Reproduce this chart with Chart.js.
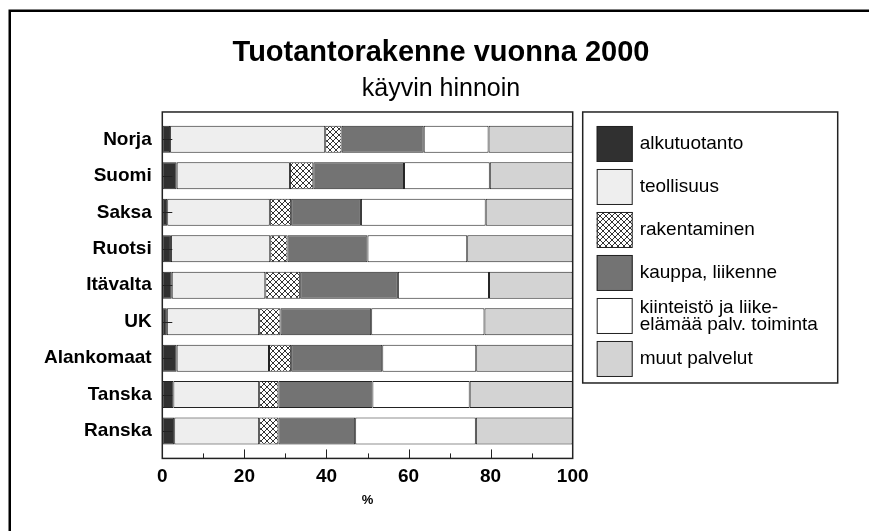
<!DOCTYPE html>
<html>
<head>
<meta charset="utf-8">
<script src="https://cdn.jsdelivr.net/npm/chart.js@4"></script>
<style>
  body { margin: 0; background: #fff; }
  #wrap { width: 869px; height: 531px; }
</style>
</head>
<body>
<div id="wrap"><canvas id="myChart" width="869" height="531"></canvas></div>
<script>
// data (%, each country sums to 100)
const countries = ['Norja', 'Suomi', 'Saksa', 'Ruotsi', 'Itävalta', 'UK', 'Alankomaat', 'Tanska', 'Ranska'];
const seriesNames = ['alkutuotanto', 'teollisuus', 'rakentaminen', 'kauppa, liikenne', 'kiinteistö ja liike-\nelämää palv. toiminta', 'muut palvelut'];
const alkutuotanto = [1.9, 3.5, 1.2, 2.1, 2.3, 1.1, 3.5, 2.7, 2.9];
const teollisuus = [37.8, 27.6, 25.0, 24.2, 22.8, 22.5, 22.5, 20.9, 20.7];
const rakentaminen = [4.0, 5.7, 5.2, 4.2, 8.5, 5.2, 5.4, 4.7, 4.7];
const kauppa = [20.0, 22.1, 17.0, 19.5, 23.8, 22.1, 22.2, 22.9, 18.7];
const kiinteisto = [15.8, 20.9, 30.4, 24.3, 22.2, 27.6, 22.9, 23.7, 29.4];
const muut = [20.5, 20.2, 21.2, 25.7, 20.4, 21.5, 23.5, 25.1, 23.6];
const xTicks = [0, 20, 40, 60, 80, 100];

Chart.defaults.font.family = '"Liberation Sans", Arial, sans-serif';
Chart.defaults.color = '#000';

// cross hatch for rakentaminen
function hatch() {
    const c = document.createElement('canvas');
    c.width = 6;
    c.height = 6;
    const g = c.getContext('2d');
    g.fillStyle = '#fff';
    g.fillRect(0, 0, 6, 6);
    g.strokeStyle = '#333';
    g.lineWidth = 1;
    g.beginPath();
    g.moveTo(0, 0); g.lineTo(6, 6);
    g.moveTo(6, 0); g.lineTo(0, 6);
    g.stroke();
    return g.createPattern(c, 'repeat');
}

const fills = ['#303030', '#eeeeee', hatch(), '#737373', '#ffffff', '#d3d3d3'];
const values = [alkutuotanto, teollisuus, rakentaminen, kauppa, kiinteisto, muut];

const datasets = values.map((v, i) => ({
    label: seriesNames[i],
    data: v,
    backgroundColor: fills[i],
    borderColor: '#222',
    borderWidth: 1,
    borderSkipped: false,
    barPercentage: 0.74,
    categoryPercentage: 1
}));

// plot frame, inner ticks, outer frame and the boxed legend
const decor = {
    id: 'decor',
    afterDraw(chart) {
        const ctx = chart.ctx;
        const x = chart.scales.x, y = chart.scales.y;
        const left = x.getPixelForValue(0), right = x.getPixelForValue(100);
        const step = y.getPixelForValue(1) - y.getPixelForValue(0);
        const top = chart.chartArea.top - step / 4;
        const bottom = chart.chartArea.bottom + step / 4;
        ctx.save();
        ctx.strokeStyle = '#222';
        ctx.lineWidth = 1.5;
        ctx.strokeRect(left, top, right - left, bottom - top);

        ctx.lineWidth = 1;
        ctx.beginPath();
        countries.forEach((c, i) => {
            const yy = Math.round(y.getPixelForValue(i)) + 0.5;
            ctx.moveTo(left, yy);
            ctx.lineTo(left + 10, yy);
        });
        for (let v = 10; v < 100; v += 10) {
            const xx = Math.round(x.getPixelForValue(v)) + 0.5;
            ctx.moveTo(xx, bottom);
            ctx.lineTo(xx, bottom - (v % 20 === 0 ? 9 : 5));
        }
        ctx.stroke();

        // outer frame (only left and top edges show)
        ctx.strokeStyle = '#000';
        ctx.lineWidth = 2.5;
        ctx.beginPath();
        ctx.moveTo(9.75, 531);
        ctx.lineTo(9.75, 10.75);
        ctx.lineTo(869, 10.75);
        ctx.stroke();

        // legend
        const lx = right + 10, ly = top;
        ctx.strokeStyle = '#222';
        ctx.lineWidth = 1.5;
        ctx.strokeRect(lx, ly, 255, 271);
        ctx.font = '19px "Liberation Sans", Arial, sans-serif';
        ctx.fillStyle = '#000';
        ctx.textBaseline = 'middle';
        chart.data.datasets.forEach((ds, i) => {
            const sy = ly + 14 + i * 43;
            ctx.fillStyle = ds.backgroundColor;
            ctx.fillRect(lx + 14, sy, 36, 36);
            ctx.lineWidth = 1;
            ctx.strokeRect(lx + 14.5, sy + 0.5, 35, 35);
            ctx.fillStyle = '#000';
            const lines = ds.label.split('\n');
            lines.forEach((t, j) => {
                ctx.fillText(t, lx + 57, sy + 18 + (j - (lines.length - 1) / 2) * 17);
            });
        });
        ctx.restore();
    }
};

new Chart(document.getElementById('myChart'), {
    type: 'bar',
    data: { labels: countries, datasets: datasets },
    options: {
        indexAxis: 'y',
        responsive: false,
        animation: false,
        layout: { padding: { left: 13, right: 0, top: 0, bottom: 0 } },
        scales: {
            x: {
                stacked: true,
                min: 0,
                max: 100,
                grid: { display: false, drawTicks: false },
                border: { display: false },
                afterBuildTicks: s => { s.ticks = xTicks.map(v => ({ value: v })); },
                ticks: { font: { size: 19, weight: 'bold' }, padding: 16 },
                title: { display: true, text: '%', font: { size: 13, weight: 'bold' }, padding: { top: 0, bottom: 23 } },
                afterFit: s => { s.height = 81.7; }
            },
            y: {
                stacked: true,
                grid: { display: false, drawTicks: false },
                border: { display: false },
                ticks: { font: { size: 19, weight: 'bold' }, padding: 10.6 },
                afterFit: s => { s.width = 149.3; }
            },
            pad: {
                type: 'linear',
                position: 'right',
                grid: { display: false, drawTicks: false },
                border: { display: false },
                ticks: { display: false },
                afterFit: s => { s.width = 296.3; }
            }
        },
        plugins: {
            legend: { display: false },
            tooltip: { enabled: false },
            title: {
                display: true,
                text: 'Tuotantorakenne vuonna 2000',
                color: '#000',
                font: { size: 29, weight: 'bold' },
                padding: { top: 35.6, bottom: 0 }
            },
            subtitle: {
                display: true,
                text: 'käyvin hinnoin',
                color: '#000',
                font: { size: 25 },
                padding: { top: 3.8, bottom: 16.9 }
            }
        }
    },
    plugins: [decor]
});
</script>
</body>
</html>
